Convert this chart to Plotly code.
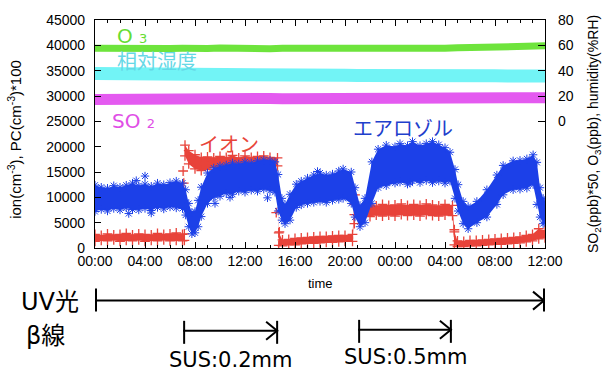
import plotly.graph_objects as go

# ---------------- data (hours since 00:00 of day 1) ----------------
tick_hours = [0, 4, 8, 12, 16, 20, 24, 28, 32, 36]
tick_labels = ["00:00", "04:00", "08:00", "12:00", "16:00", "20:00",
               "00:00", "04:00", "08:00", "12:00"]

# aerosol (PC*100) band: lower / upper edge
aer_t = [0.0, 0.5, 1.0, 1.5, 2.0, 2.5, 3.0, 3.5, 4.0, 4.5, 5.0, 5.5, 6.0, 6.5,
         7.0, 7.25, 7.5, 7.75, 8.0, 8.25, 8.5, 9.0, 9.5, 10.0, 10.5, 11.0,
         11.5, 12.0, 12.5, 13.0, 13.5, 14.0, 14.4, 14.65, 14.95, 15.2, 15.6,
         16.1, 16.5, 17.0, 17.5, 18.0, 18.5, 19.0, 19.5, 19.85, 20.5, 20.8,
         21.2, 21.6, 22.15, 22.65, 23.3, 24.0, 24.4, 25.0, 25.4, 26.0, 26.5,
         27.0, 27.5, 28.0, 28.4, 28.8, 29.05, 29.45, 29.85, 30.55, 31.35,
         32.15, 32.65, 33.45, 34.0, 34.55, 35.05, 35.35, 35.6, 35.85, 36.0]
aer_lo = [7200, 7600, 7300, 7800, 7500, 7900, 7600, 7500, 7800, 7400, 8000, 7700, 8100, 7900,
          7800, 6500, 4200, 2800, 3000, 4200, 6200, 8800, 10000, 10200, 10800, 10600,
          11200, 11000, 11400, 11200, 11600, 11300, 11000, 7300, 5500, 4800, 5500,
          8000, 8500, 8800, 9000, 9200, 9000, 9400, 9600, 9800, 8800, 6100,
          4200, 5000, 8800, 11900, 12300, 12800, 13000, 12600, 13200, 12900, 13300,
          12900, 13200, 12800, 13200, 9800, 7300, 4800, 3800, 5000, 6100,
          8600, 10500, 11500, 11600, 11800, 12500, 8600, 6100, 4800, 5000]
aer_hi = [12400, 12000, 11800, 12300, 12000, 12400, 12800, 12300, 12600, 12200, 12800, 12500, 12900, 13200,
          12800, 11500, 8800, 7000, 7200, 9400, 12000, 14800, 15800, 16200, 16400, 16800,
          16600, 17000, 16800, 17200, 17400, 17300, 17000, 14500, 9800, 8600, 10600,
          12600, 13200, 13800, 14400, 14800, 14400, 14600, 15200, 15600, 15000, 11900,
          8400, 9800, 17000, 19500, 20300, 20000, 20600, 20200, 21000, 20200, 20600,
          21000, 20400, 19800, 18900, 15500, 12500, 9200, 8200, 9200, 11500,
          14400, 16300, 17200, 17300, 17600, 18400, 16900, 11900, 9800, 9200]
aer_out_t = [2.7, 3.3, 4.0, 4.5, 9.6, 10.8, 13.8, 17.8, 25.2]
aer_out_v = [6800, 13300, 14200, 6900, 8800, 10000, 9900, 15100, 12800]

# ions band: lower / upper edge
ion_t = [0.0, 0.5, 1.0, 1.5, 2.0, 2.5, 3.0, 3.5, 4.0, 4.5, 5.0, 5.5, 6.0, 6.5,
         7.0, 7.15, 7.2, 7.5, 8.0, 8.5, 9.0, 9.5, 10.0, 10.5, 11.0, 11.5, 12.0,
         12.5, 13.0, 13.5, 14.0, 14.6, 14.7, 15.0, 15.5, 16.0, 16.5, 17.0, 17.5,
         18.0, 18.5, 19.0, 19.5, 20.0, 20.6, 20.75, 21.5, 22.0, 22.5, 23.0, 23.5,
         24.0, 24.5, 25.0, 25.5, 26.0, 26.5, 27.0, 27.5, 28.0, 28.6, 28.75, 29.0,
         29.5, 30.0, 30.5, 31.0, 31.5, 32.0, 32.5, 33.0, 33.5, 34.0, 34.5, 35.0,
         35.5, 36.0]
ion_lo = [1300, 1500, 1400, 1600, 1300, 1500, 1400, 1600, 1300, 1500, 1400, 1600, 1400, 1500,
          1400, 1500, 18200, 16600, 15600, 15300, 15500, 15900, 15800, 16100, 16200, 16000, 16300,
          16000, 16300, 16100, 16000, 16200, 500, 400, 600, 600, 800, 900, 900,
          1000, 1100, 1100, 1200, 1300, 1300, 6600, 6400, 6200, 6500, 6300, 6500,
          6300, 6600, 6400, 6500, 6300, 6600, 6400, 6300, 6500, 6400, 600, 300,
          300, 400, 400, 500, 600, 700, 700, 800, 900, 1000, 1200, 1400,
          1800, 2000]
ion_hi = [2700, 2500, 2800, 2600, 2700, 2900, 2600, 2800, 2700, 2600, 2900, 2700, 2800, 3000,
          2700, 2800, 20300, 19200, 18400, 17900, 18000, 17800, 18100, 17900, 18300, 17800, 18200,
          17900, 18100, 18200, 17900, 17800, 3000, 1600, 1700, 1900, 2000, 2100, 2200,
          2300, 2300, 2400, 2500, 2500, 2700, 8600, 8300, 8500, 8300, 8600, 8400,
          8500, 8700, 8400, 8600, 8400, 8700, 8500, 8300, 8600, 8400, 3200, 1400,
          1300, 1500, 1500, 1600, 1700, 1800, 1900, 2000, 2100, 2200, 2500, 2700,
          3800, 3400]
ion_out_t = [7.05, 7.1, 14.5, 14.75, 20.75, 20.8, 28.75]
ion_out_v = [15200, 12800, 7000, 3200, 4800, 10500, 3600]

# right-axis series, hourly
gas_t = list(range(0, 37))
o3 = [57.6, 57.4, 57.8, 57.5, 57.3, 57.7, 57.5, 57.6, 57.2, 57.5, 57.8, 57.4, 57.6,
      57.5, 57.3, 57.7, 57.6, 57.4, 57.8, 57.5, 57.6, 57.4, 57.7, 57.5, 57.8, 57.6,
      57.5, 57.8, 57.7, 58.0, 58.2, 58.6, 59.3, 59.6, 59.4, 59.5, 59.6]
humidity = [37.7, 37.5, 37.6, 37.3, 37.4, 37.1, 37.2, 36.9, 37.0, 36.8, 36.9, 36.6, 36.7,
            36.5, 36.6, 36.4, 36.5, 36.3, 36.4, 36.2, 36.3, 36.2, 36.4, 36.1, 36.3, 36.0,
            36.2, 36.1, 35.9, 36.1, 35.8, 36.0, 35.9, 35.7, 35.9, 35.8, 35.8]
so2x50 = [17.3, 17.5, 17.2, 17.6, 17.4, 17.7, 17.5, 17.8, 17.6, 17.9, 17.7, 17.8, 17.6,
          17.9, 18.0, 17.8, 17.9, 18.1, 17.8, 18.0, 17.9, 18.1, 18.0, 18.2, 17.9, 18.1,
          18.3, 18.2, 18.4, 18.3, 18.5, 18.4, 18.6, 18.5, 18.7, 18.8, 18.7]

# irradiation periods
uv_start, uv_end = 0.0, 36.0
beta_start = [7.05, 21.05]
beta_end = [14.65, 28.55]
beta_labels = ["SUS:0.2mm", "SUS:0.5mm"]

assert len(aer_t) == len(aer_lo) == len(aer_hi)
assert len(ion_t) == len(ion_lo) == len(ion_hi)

# ---------------- styling ----------------
W, H = 602, 374
ML, MR, MT, MB = 95, 57, 14, 126
PW, PH = W - ML - MR, H - MT - MB


def px_x(px):
    return (px - ML) / PW


def px_y(py):
    return (H - MB - py) / PH


RED = "#e8433a"
BLUE = "#1c40e8"
GREEN = "#6ee43c"
CYAN = "#72f4f6"
MAG = "#e45af0"
TICKFONT = dict(family="Liberation Sans, Arial, sans-serif", size=14, color="black")
JP = "Noto Sans CJK JP, sans-serif"
GOTH = "DejaVu Sans, Noto Sans CJK JP, sans-serif"

fig = go.Figure()

# gases on right axis
for vals, col, w in [(o3, GREEN, 7), (humidity, CYAN, 13), (so2x50, MAG, 11)]:
    fig.add_trace(go.Scatter(x=gas_t, y=vals, mode="lines", yaxis="y2",
                             line=dict(color=col, width=w), hoverinfo="skip"))


def band(t, lo, hi, out_t, out_v, color, marker):
    fig.add_trace(go.Scatter(x=t, y=lo, mode="lines", line=dict(width=0, color=color)))
    fig.add_trace(go.Scatter(x=t, y=hi, mode="lines", line=dict(width=0, color=color),
                             fill="tonexty", fillcolor=color))
    fig.add_trace(go.Scatter(x=t, y=lo, mode="markers", marker=marker))
    fig.add_trace(go.Scatter(x=t, y=hi, mode="markers", marker=marker))
    fig.add_trace(go.Scatter(x=out_t, y=out_v, mode="markers", marker=marker))


ion_marker = dict(symbol="cross-thin-open", size=7, color=RED, line=dict(color=RED, width=1.3))
aer_marker = dict(symbol="asterisk-open", size=7, color=BLUE, line=dict(color=BLUE, width=1))
band(ion_t, ion_lo, ion_hi, ion_out_t, ion_out_v, RED, ion_marker)
band(aer_t, aer_lo, aer_hi, aer_out_t, aer_out_v, BLUE, aer_marker)

fig.update_layout(
    width=W, height=H, margin=dict(l=ML, r=MR, t=MT, b=MB),
    paper_bgcolor="white", plot_bgcolor="white", showlegend=False,
    xaxis=dict(range=[0, 36], tickmode="array", tickvals=tick_hours, ticktext=tick_labels,
               ticks="inside", ticklen=6, tickcolor="black", tickwidth=1,
               showline=True, linecolor="black", linewidth=1.2, mirror="ticks",
               showgrid=False, zeroline=False, tickfont=TICKFONT,
               minor=dict(tickmode="linear", tick0=0, dtick=1, ticks="inside", ticklen=3,
                          tickcolor="black", tickwidth=1, showgrid=False)),
    yaxis=dict(range=[0, 45000], tickmode="linear", tick0=0, dtick=5000, tickformat="d",
               ticks="inside", ticklen=6, tickcolor="black", showline=True,
               linecolor="black", linewidth=1.2, showgrid=False, zeroline=False,
               tickfont=TICKFONT, ticklabelstandoff=6),
    yaxis2=dict(range=[-100, 80], overlaying="y", side="right", tickmode="array",
                tickvals=[0, 20, 40, 60, 80], ticks="inside", ticklen=7, tickcolor="black",
                showline=True, linecolor="black", linewidth=1.2, showgrid=False,
                zeroline=False, tickfont=TICKFONT, ticklabelstandoff=9),
)

ann = []


def label(text, px, py, size, color, family, xanchor="left", angle=0):
    ann.append(dict(text=text, x=px_x(px), y=px_y(py), xref="paper", yref="paper",
                    xanchor=xanchor, yanchor="middle", showarrow=False, textangle=angle,
                    font=dict(size=size, color=color, family=family)))


label("O <span style='font-size:13px'>3</span>", 115, 30, 20, "#66dd33", GOTH)
label("相対湿度", 115, 56, 20, "#66d8e6", JP)
label("SO <span style='font-size:13px'>2</span>", 110, 118, 20, "#e04ee6", GOTH)
label("イオン", 197, 141, 20, "#e8453a", JP)
label("エアロゾル", 351, 124, 20, "#1f40cc", JP)
label("ion(cm<sup>-3</sup>), PC(cm<sup>-3</sup>)*100", 15, 137, 15, "black",
      TICKFONT["family"], xanchor="center", angle=-90)
label("SO<sub>2</sub>(ppb)*50, O<sub>3</sub>(ppb), humidity(%RH)", 594, 131, 14, "black",
      TICKFONT["family"], xanchor="center", angle=-90)
label("time", 320, 284, 13, "black", TICKFONT["family"], xanchor="center")
label("UV光", 19, 303, 24, "black", GOTH)
label("β線", 24, 338, 24, "black", GOTH)

beta_y = [333, 332]
label_y = [363, 360]
for s, e, txt, ly in zip(beta_start, beta_end, beta_labels, label_y):
    ann.append(dict(text=txt, x=(s + e) / 2, y=px_y(ly), xref="x", yref="paper",
                    xanchor="center", yanchor="middle", showarrow=False,
                    font=dict(size=21, color="black", family=GOTH)))
fig.update_layout(annotations=ann)

shapes = []
LW = 2


def arrow(s, e, py, bar_up, bar_dn):
    yp = px_y(py)
    shapes.append(dict(type="line", xref="x", yref="paper", x0=s, x1=e, y0=yp, y1=yp,
                       line=dict(color="black", width=LW)))
    shapes.append(dict(type="line", xref="x", yref="paper", xsizemode="pixel", xanchor=s,
                       x0=1, x1=1, ysizemode="pixel", yanchor=yp, y0=-bar_dn, y1=bar_up,
                       line=dict(color="black", width=LW)))
    shapes.append(dict(type="line", xref="x", yref="paper", xsizemode="pixel", xanchor=e,
                       x0=-1, x1=-1, ysizemode="pixel", yanchor=yp, y0=-bar_dn, y1=bar_up,
                       line=dict(color="black", width=LW)))
    shapes.append(dict(type="path", xref="x", yref="paper", xsizemode="pixel", xanchor=e,
                       ysizemode="pixel", yanchor=yp, path="M -12,9 L -1,0 L -12,-9",
                       line=dict(color="black", width=LW)))


arrow(uv_start, uv_end, 302, 12, 11)
for s, e, py in zip(beta_start, beta_end, beta_y):
    arrow(s, e, py, 10, 13)
fig.update_layout(shapes=shapes)

fig.write_html("out.html", config={"displayModeBar": False},
               post_script="document.body.style.margin='0';document.body.style.padding='0';")
